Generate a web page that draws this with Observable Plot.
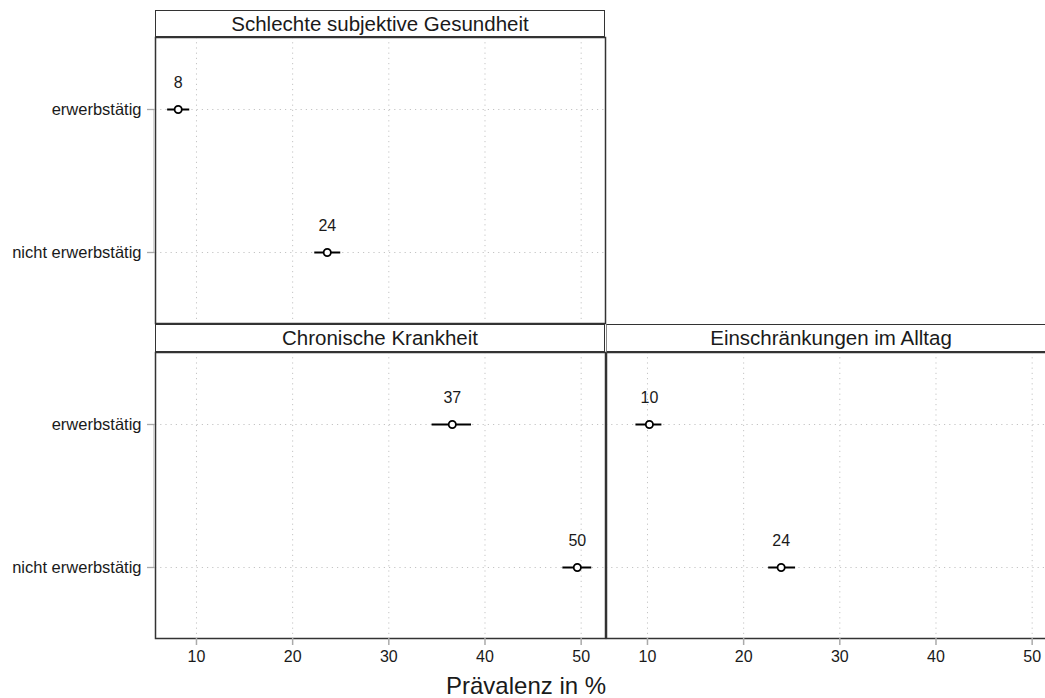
<!DOCTYPE html>
<html><head><meta charset="utf-8">
<script src="https://cdn.jsdelivr.net/npm/d3@7"></script>
<script src="https://cdn.jsdelivr.net/npm/@observablehq/plot@0.6"></script>
<style>
html,body{margin:0;padding:0;background:#fff;}
#wrap{position:relative;width:1045px;height:698px;overflow:hidden;background:#fff;font-family:"Liberation Sans",Arial,sans-serif;color:#1a1a1a;}
.strip{position:absolute;box-sizing:border-box;border:1px solid #333;border-bottom:2px solid #333;background:#fff;font-size:20.5px;text-align:center;white-space:nowrap;}
.panel{position:absolute;}
.title{position:absolute;font-size:24px;line-height:24px;white-space:nowrap;}
</style></head><body><div id="wrap"></div>
<script>
// ---- data ----
const groups = ["erwerbstätig", "nicht erwerbstätig"];
const panelTitles = ["Schlechte subjektive Gesundheit", "Chronische Krankheit", "Einschränkungen im Alltag"];
const estimate = [[8.1, 23.6], [36.6, 49.6], [10.2, 23.9]];
const lower    = [[7.0, 22.3], [34.5, 48.1], [8.8, 22.6]];
const upper    = [[9.3, 25.0], [38.6, 51.1], [11.5, 25.4]];
const valueLabels = [["8", "24"], ["37", "50"], ["10", "24"]];
const xTicks = [10, 20, 30, 40, 50];
const xTitle = "Prävalenz in %";

// ---- layout ----
const xDomain = [5.74, 52.53];
const W = 450, H = 286;
const layout = [
  {left: 155, top: 37, stripTop: 10, stripH: 28, showY: true, showX: false},
  {left: 155, top: 352, stripTop: 324, stripH: 29, showY: true, showX: true},
  {left: 606, top: 352, stripTop: 324, stripH: 29, showY: false, showX: true}
];
const wrap = document.getElementById("wrap");
const font = '"Liberation Sans", Arial, sans-serif';

layout.forEach((L, p) => {
  const data = groups.map((g, i) => ({g, est: estimate[p][i], lo: lower[p][i], hi: upper[p][i], label: valueLabels[p][i]}));
  const mL = L.showY ? L.left : 3, mT = 3, mR = 3, mB = L.showX ? 40 : 3;
  const marks = [
    Plot.ruleX(xTicks, {stroke: "#c4c4c4", strokeDasharray: "1.2,4"}),
    Plot.ruleY(groups, {stroke: "#c4c4c4", strokeDasharray: "1.2,4"}),
    Plot.ruleY(data, {y: "g", x1: "lo", x2: "hi", stroke: "#000", strokeWidth: 2}),
    Plot.dot(data, {x: "est", y: "g", r: 3.6, stroke: "#000", fill: "#fff", strokeWidth: 1.8}),
    Plot.text(data, {x: "est", y: "g", text: "label", dy: -27, fontSize: 16, fill: "#1a1a1a"}),
    Plot.frame({stroke: "#333", strokeWidth: 1.5})
  ];
  if (L.showY) {
    marks.push(Plot.ruleX([xDomain[0]], {y1: () => groups[0], y2: () => groups[groups.length - 1], dx: -1.5, stroke: "#c8c8c8", strokeWidth: 1.5}));
    marks.push(Plot.axisY({tickSize: 8, tickPadding: 6, stroke: "#aaa", strokeWidth: 1.3, fill: "#1a1a1a", fontSize: 16.5}));
  }
  if (L.showX) {
    marks.push(Plot.axisX({ticks: xTicks, tickSize: 7, tickPadding: 5, stroke: "#aaa", strokeWidth: 1.5, fill: "#1a1a1a", fontSize: 16}));
  }
  const chart = Plot.plot({
    width: mL + W + mR,
    height: mT + H + mB,
    marginLeft: mL, marginRight: mR, marginTop: mT, marginBottom: mB,
    style: {fontFamily: font, fontSize: "16px", background: "transparent", overflow: "visible"},
    x: {domain: xDomain, axis: L.showX ? undefined : null, label: null},
    y: {type: "point", domain: groups, padding: 0.5, axis: L.showY ? undefined : null, label: null},
    marks
  });
  chart.classList.add("panel");
  chart.style.left = (L.left - mL) + "px";
  chart.style.top = (L.top - mT) + "px";
  wrap.appendChild(chart);

  const s = document.createElement("div");
  s.className = "strip";
  s.textContent = panelTitles[p];
  s.style.left = L.left + "px";
  s.style.top = L.stripTop + "px";
  s.style.width = W + "px";
  s.style.height = L.stripH + "px";
  s.style.lineHeight = (L.stripH - 3) + "px";
  if (p === 2) s.style.borderLeftColor = "#888";
  wrap.appendChild(s);
});

const t = document.createElement("div");
t.className = "title";
t.textContent = xTitle;
t.style.left = "446px";
t.style.top = "674px";
wrap.appendChild(t);
</script></body></html>
